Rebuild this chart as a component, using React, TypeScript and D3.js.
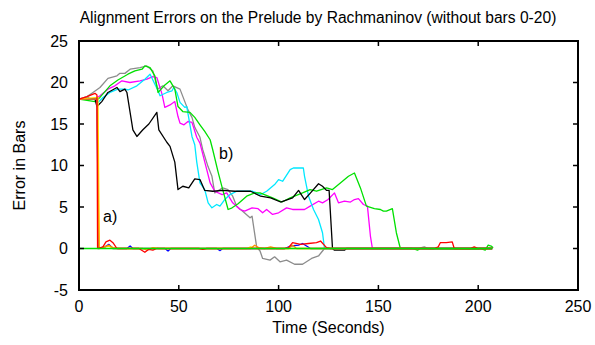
import React from 'react';
import * as d3 from 'd3';

// each series: [seconds, error in bars]
const seriesGray: [number, number][] = [
  [0, 18], [4, 18.3], [7, 18.8], [10.5, 19.4], [14.5, 20.5], [19, 20.8], [20.5, 21.1], [23, 21.1],
  [25.6, 21.6], [30.6, 21.8], [34, 22.0], [37, 21.4], [39.4, 19.2], [42, 19.6], [44.6, 19.0],
  [47, 19.6], [50.6, 19.2], [54.6, 16.7], [56.6, 15.8], [58, 14.6], [60.6, 13.4], [62, 11.9],
  [64.6, 9.9], [66.6, 8.7], [68, 6.7], [72, 7.3], [74.6, 7.1], [77, 6.3], [79, 5.1], [82, 4.5],
  [85.7, 3.7], [86.7, 3.9], [89, 0.2], [90.7, -0.3], [92, -1.2], [95.7, -1.4], [98, -1.0],
  [100.7, -1.6], [104, -1.4], [108, -1.9], [112, -1.9], [116.5, -1.2], [120, -0.9], [122, -0.3],
  [123, 0], [170, 0], [173, 0.2], [175, 0], [207, 0],
];

const seriesMagenta: [number, number][] = [
  [0, 18], [8, 18], [10.5, 18.4], [14.5, 19.2], [18, 19.6], [21.5, 20.2], [25.5, 20], [30.6, 20.2],
  [34, 20.4], [37, 20.7], [39, 20.6], [41.6, 18.6], [43, 17], [45.6, 17.3], [48, 17.7], [49.6, 15.9],
  [50.6, 15.1], [52.6, 14.9], [54.6, 15.3], [56.6, 15.2], [59, 13.4], [60.6, 12.7], [64, 9.5],
  [65.7, 7.9], [68, 6.9], [71.7, 6.5], [74, 6.7], [77, 5.5], [80.7, 4.7], [83, 4.5], [86.7, 4.9],
  [89.7, 4.8], [92, 4.3], [94, 4.7], [97, 4.1], [100, 4.3], [104, 4.9], [107, 4.7], [113, 4.7],
  [115.8, 5.1], [120, 5.7], [122, 5.5], [124.8, 5.9], [128, 6.7], [130, 5.5], [133, 5.7], [136, 5.6],
  [138, 5.9], [140, 6.0], [142.5, 5.3], [144.5, 5.1], [146, 1.5], [147, 0], [207, 0],
];

const seriesCyan: [number, number][] = [
  [0, 18], [8, 18], [9.5, 17.6], [12, 18.2], [15.5, 18.8], [19.5, 19.2], [23, 19.2], [24.6, 19.1],
  [29, 19.6], [33, 20.4], [35.6, 21.0], [39.6, 19.0], [40.6, 18.4], [44, 18.8], [46.6, 19.0],
  [47.5, 19.4], [49, 18.8], [50.6, 17.6], [53, 17], [54, 17.1], [55, 15.7], [56.6, 13.5], [58, 12.5],
  [59, 10.4], [60.6, 7.9], [63, 7.1], [64.7, 5.5], [66.6, 4.9], [69, 5.3], [70.6, 5.1], [73, 5.9],
  [75.7, 6.5], [79, 6.9], [87, 6.9], [91, 6.5], [94, 6.9], [98, 7.7], [100, 8.3], [102, 8.1],
  [105.8, 9.5], [107.4, 9.7], [112.4, 9.7], [113, 8.7], [115, 6.3], [117.5, 4.7], [120, 3.5],
  [122, 1.9], [123, 0], [207, 0],
];

const seriesGreen: [number, number][] = [
  [0, 18], [8, 17.7], [10.5, 18.2], [15.5, 19.6], [19.5, 20.3], [24.5, 21], [28, 21.4], [31.6, 21.6],
  [33, 22], [35.6, 21.8], [38, 20.8], [39.6, 18.8], [42.6, 19.6], [45.6, 20.2], [48, 19.2],
  [49.6, 17.1], [52, 16.5], [55.6, 16.4], [58, 15.8], [60.6, 14.9], [63, 14.1], [65.7, 13.1],
  [67, 11.9], [69.7, 9.2], [72, 7.1], [74.7, 4.7], [76.7, 4.9], [79.7, 5.4], [84, 6.3], [88, 6.7],
  [90.7, 6.7], [97, 6.1], [101.7, 5.6], [105.8, 6.1], [112, 6.7], [115.8, 7.1], [119, 6.9],
  [124, 7.3], [127, 7.1], [132, 8.1], [135, 8.7], [138, 9.1], [141, 7.3], [144, 5.1], [148, 4.8],
  [151, 4.7], [152.5, 4.5], [154, 4.5], [157, 4.8], [159, 1.9], [161, 0], [167, 0], [169.6, -0.2],
  [171, 0], [199.5, -0.1], [201, 0], [203.5, -0.2], [205, 0.4], [206.5, 0.3], [207.5, 0.1],
];

const seriesBlack: [number, number][] = [
  [0, 18], [5, 18.1], [8, 18], [9, 17.1], [11.4, 17.7], [14.5, 18.8], [19, 19.4], [20.5, 18.9],
  [23, 19.2], [24, 18.8], [27, 14.3], [29, 13.5], [32, 14.3], [35, 15], [39, 16.4], [40, 14.3],
  [44, 12.8], [45.6, 12.3], [48, 10.4], [49.6, 7.1], [52, 7.5], [55, 7.3], [58, 8.4], [60.6, 8.3],
  [63, 7.0], [67, 6.9], [72, 7.0], [78, 6.9], [86, 6.9], [91, 6.3], [96, 6.1], [101, 5.6], [107, 6.1],
  [110, 7.0], [113, 5.9], [116, 6.7], [120, 7.8], [122, 7.5], [124, 7.0], [125.3, 7.0], [127, 0],
  [128, -0.2], [133, -0.2], [134, 0], [207, 0],
];

// the "a)" runs, which lose the piece after ~10 s and then sit near zero
const seriesBlue: [number, number][] = [
  [0, 18], [9, 18], [9.8, 0], [13, 0.2], [15, 0.5], [17, 0], [24, 0], [25.6, 0.3], [27, 0], [43, 0],
  [44.6, -0.3], [46, 0], [69, 0], [70.7, -0.25], [72, 0], [103, 0], [106, 0.3], [110, 0.4],
  [112, 0.6], [114, 0.3], [116, 0], [207, 0],
];

const seriesYellow: [number, number][] = [
  [0, 18], [9.5, 18.2], [10.2, 0], [13, 0.2], [15, 0.3], [17, 0], [84, 0], [86, 0.2], [88, 0], [207, 0],
];

const seriesOrange: [number, number][] = [
  [0, 18], [9, 18], [10, 0], [13, 0.2], [15, 0.4], [17, 0.1], [20, 0], [32, 0], [34, -0.2], [37, 0.1],
  [40, 0], [86, 0], [88, 0.4], [90, 0.1], [93, 0], [96, 0.2], [99, 0], [105, 0], [107, 0.4], [109, 0],
  [207, 0],
];

const seriesRed: [number, number][] = [
  [0, 18], [4, 18.3], [8, 18.7], [9, 18.5], [9.3, 0], [12, 0.2], [13.5, 0.8], [15.5, 1.0], [17, 0.7],
  [19, 0], [30, 0], [33, -0.45], [35, -0.1], [37, -0.2], [39, 0], [60, 0], [62, -0.1], [64, 0],
  [103, 0], [105, 0.1], [107, 0.7], [111, 0.5], [115, 0.6], [119, 0.7], [121, 0.9], [124, 0.1],
  [126, 0], [178, 0], [180, 0.2], [181, 0.7], [184, 0.7], [187, 0.8], [188, 0], [196, 0],
  [198, 0.2], [200, 0], [207, 0],
];

const seriesZero: [number, number][] = [[0, 0], [207, 0]];

const xTicks = [0, 50, 100, 150, 200, 250];
const yTicks = [-5, 0, 5, 10, 15, 20, 25];

const title = 'Alignment Errors on the Prelude by Rachmaninov (without bars 0-20)';

const width = 595;
const height = 345;
const margin = { top: 41, right: 17, bottom: 55, left: 79 };
const font = '"Liberation Sans", Arial, Helvetica, sans-serif';

const App = () => {
  const xScale = d3.scaleLinear().domain([0, 250]).range([margin.left, width - margin.right]);
  const yScale = d3.scaleLinear().domain([-5, 25]).range([height - margin.bottom, margin.top]);

  const line = d3.line<[number, number]>()
    .x(d => xScale(d[0]))
    .y(d => yScale(d[1]));

  // drawing order: the green zero run ends up on top, as in the original
  const lines = [
    { data: seriesGray, color: '#8c8c8c' },
    { data: seriesMagenta, color: '#ff00ff' },
    { data: seriesCyan, color: '#00e8ff' },
    { data: seriesGreen, color: '#00e000' },
    { data: seriesBlack, color: '#000000' },
    { data: seriesBlue, color: '#0000ff' },
    { data: seriesYellow, color: '#ffe000' },
    { data: seriesOrange, color: '#ff8c00' },
    { data: seriesRed, color: '#ff0000' },
    { data: seriesZero, color: '#00e000' },
  ];

  const x0 = margin.left;
  const x1 = width - margin.right;
  const y0 = height - margin.bottom;
  const y1 = margin.top;
  const tick = 5;

  return (
    <svg width={width} height={height} style={{ position: 'absolute', left: 0, top: 0 }}
      fontFamily={font} fontSize={16}>
      <rect width={width} height={height} fill="#fff" />
      <text x={318} y={23} textAnchor="middle" fontSize={15.6}>{title}</text>

      <g fill="none" strokeWidth={1.3} strokeLinejoin="round">
        {lines.map((l, i) => (
          <path key={i} d={line(l.data) ?? ''} stroke={l.color} />
        ))}
      </g>

      <text x={103} y={222}>a)</text>
      <text x={219} y={159}>b)</text>

      <g stroke="#000" strokeWidth={1.5}>
        {xTicks.slice(1, -1).map(t => (
          <g key={t}>
            <line x1={xScale(t)} x2={xScale(t)} y1={y0} y2={y0 - tick} />
            <line x1={xScale(t)} x2={xScale(t)} y1={y1} y2={y1 + tick} />
          </g>
        ))}
        {yTicks.slice(1, -1).map(t => (
          <g key={t}>
            <line x1={x0} x2={x0 + tick} y1={yScale(t)} y2={yScale(t)} />
            <line x1={x1} x2={x1 - tick} y1={yScale(t)} y2={yScale(t)} />
          </g>
        ))}
      </g>
      <rect x={x0} y={y1} width={x1 - x0} height={y0 - y1} fill="none" stroke="#000" strokeWidth={2} />

      {xTicks.map(t => (
        <text key={t} x={xScale(t)} y={y0 + 22} textAnchor="middle">{t}</text>
      ))}
      {yTicks.map(t => (
        <text key={t} x={x0 - 11} y={yScale(t) + 5.5} textAnchor="end">{t}</text>
      ))}

      <text x={(x0 + x1) / 2} y={333} textAnchor="middle">Time (Seconds)</text>
      <text transform={`translate(25, ${(y0 + y1) / 2}) rotate(-90)`} textAnchor="middle">Error in Bars</text>
    </svg>
  );
};

export default App;
